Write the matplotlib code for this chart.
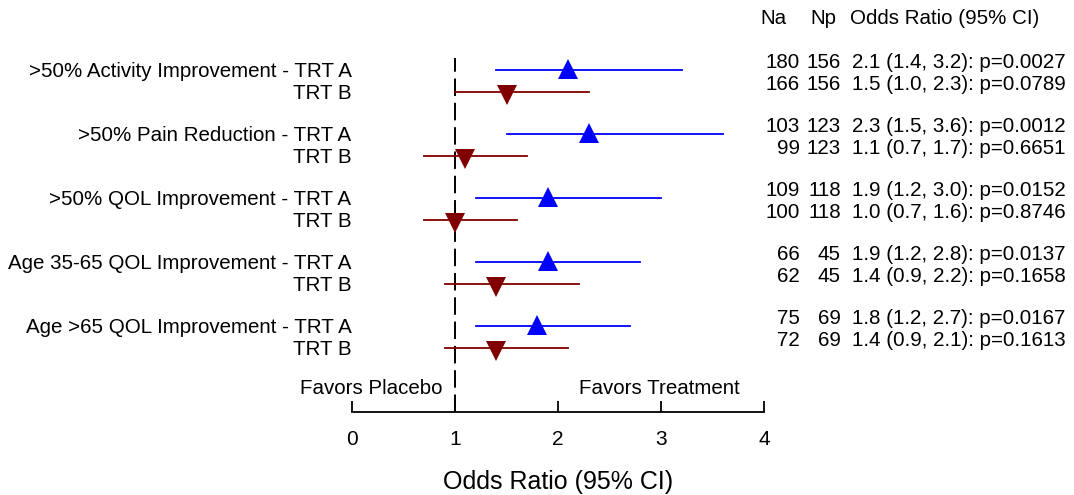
import matplotlib
matplotlib.use('Agg')
from matplotlib import pyplot as plt
import matplotlib.transforms as mtransforms

plt.rcParams['font.family'] = ['Liberation Sans', 'DejaVu Sans']

endpoints = ['>50% Activity Improvement', '>50% Pain Reduction', '>50% QOL Improvement',
             'Age 35-65 QOL Improvement', 'Age >65 QOL Improvement']
or_a = [2.1, 2.3, 1.9, 1.9, 1.8]
lo_a = [1.4, 1.5, 1.2, 1.2, 1.2]
hi_a = [3.2, 3.6, 3.0, 2.8, 2.7]
p_a = ['0.0027', '0.0012', '0.0152', '0.0137', '0.0167']
n_a = [180, 103, 109, 66, 75]
or_b = [1.5, 1.1, 1.0, 1.4, 1.4]
lo_b = [1.0, 0.7, 0.7, 0.9, 0.9]
hi_b = [2.3, 1.7, 1.6, 2.2, 2.1]
p_b = ['0.0789', '0.6651', '0.8746', '0.1658', '0.1613']
n_b = [166, 99, 100, 62, 72]
n_p = [156, 123, 118, 45, 69]

W, H = 1074, 495
fig = plt.figure(figsize=(W / 100, H / 100), dpi=100)
# axes: x=0 at px 352, x=4 at px 764; y rows in units of 22 px, row 0 at px 70
top_px, bot_px = 58, 412
ax = fig.add_axes([352 / W, 1 - bot_px / H, 412 / W, (bot_px - top_px) / H])
unit = 22.0
ax.set_xlim(0, 4)
ax.set_ylim((bot_px - 70) / unit, (top_px - 70) / unit)

gap = 64 / unit
ya = [i * gap for i in range(len(endpoints))]
yb = [y + 1 for y in ya]

ax.axvline(1, color='black', lw=1.4, dashes=(9, 3.5), zorder=1)

for i in range(len(endpoints)):
    ax.plot([lo_a[i], hi_a[i]], [ya[i], ya[i]], color='#0000ff', lw=1.3)
    ax.plot(or_a[i], ya[i] - 0.05, marker='^', color='#0000ff', ms=15, mew=0)
    ax.plot([lo_b[i], hi_b[i]], [yb[i], yb[i]], color='#800000', lw=1.3)
    ax.plot(or_b[i], yb[i] + 0.12, marker='v', color='#800000', ms=15, mew=0)

fs = 14.8
for i, name in enumerate(endpoints):
    ax.text(-0.005, ya[i] + 0.05, name + ' - TRT A', ha='right', va='center', fontsize=fs, clip_on=False)
    ax.text(-0.005, yb[i] + 0.05, 'TRT B', ha='right', va='center', fontsize=fs, clip_on=False)

tr = mtransforms.blended_transform_factory(fig.transFigure, ax.transData)
def right_cols(y, na, npl, o, lo, hi, p):
    ax.text(800 / W, y, str(na), ha='right', va='center', fontsize=fs, transform=tr)
    ax.text(841 / W, y, str(npl), ha='right', va='center', fontsize=fs, transform=tr)
    ax.text(852 / W, y, f'{o:.1f} ({lo:.1f}, {hi:.1f}): p={p}', ha='left', va='center',
            fontsize=fs, transform=tr)

for i in range(len(endpoints)):
    right_cols(ya[i] - 0.36, n_a[i], n_p[i], or_a[i], lo_a[i], hi_a[i], p_a[i])
    right_cols(yb[i] - 0.36, n_b[i], n_p[i], or_b[i], lo_b[i], hi_b[i], p_b[i])

hy = (19 - 70) / unit
ax.text(760 / W, hy, 'Na', ha='left', va='center', fontsize=fs, transform=tr)
ax.text(810 / W, hy, 'Np', ha='left', va='center', fontsize=fs, transform=tr)
ax.text(850 / W, hy, 'Odds Ratio (95% CI)', ha='left', va='center', fontsize=fs, transform=tr)

fy = (388 - 70) / unit
ax.text(0.88, fy, 'Favors Placebo', ha='right', va='center', fontsize=fs)
ax.text(2.98, fy, 'Favors Treatment', ha='center', va='center', fontsize=fs)

for s in ['top', 'right', 'left']:
    ax.spines[s].set_visible(False)
ax.spines['bottom'].set_linewidth(1.3)
ax.set_yticks([])
ax.set_xticks([0, 1, 2, 3, 4])
ax.tick_params(axis='x', direction='in', length=8, width=1.3, pad=13, labelsize=15)
ax.set_xlabel('Odds Ratio (95% CI)', fontsize=18, labelpad=15)

fig.savefig('out.png', dpi=100)
